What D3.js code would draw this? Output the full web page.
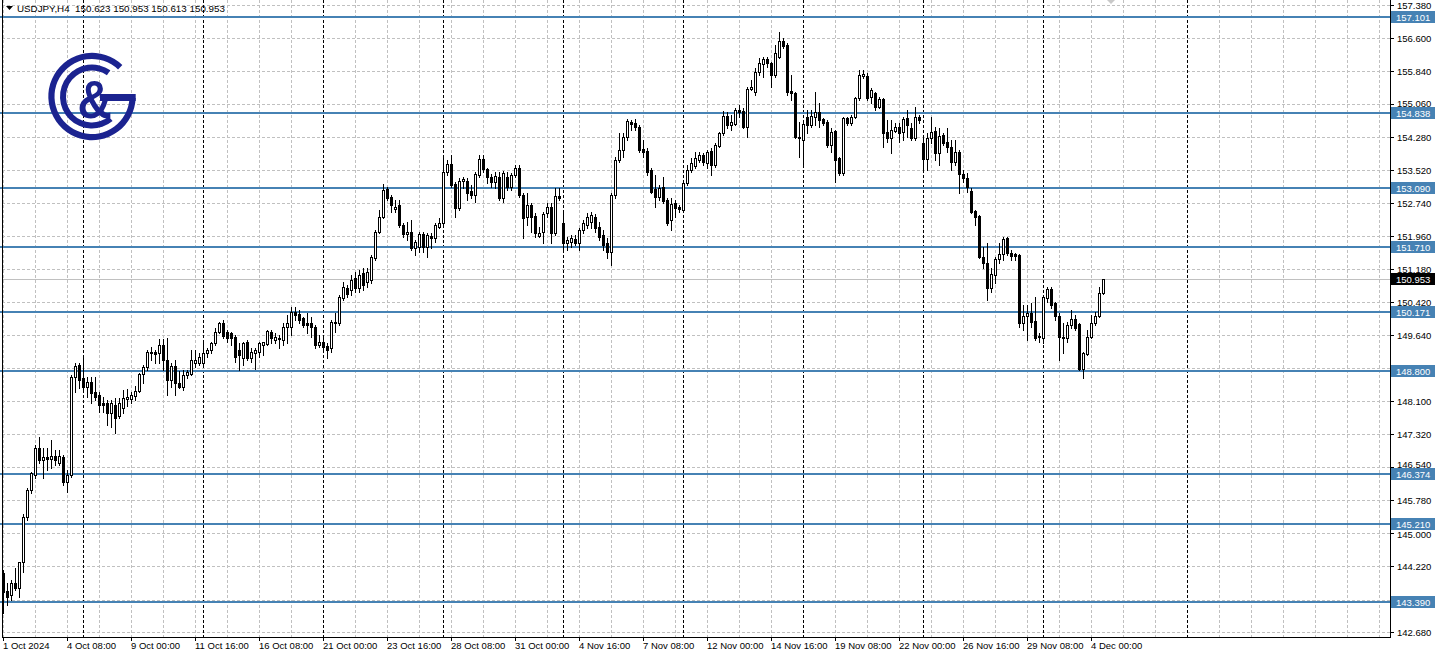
<!DOCTYPE html>
<html><head><meta charset="utf-8">
<script src="https://cdn.jsdelivr.net/npm/d3@7"></script>
<style>
html,body{margin:0;padding:0;background:#fff;overflow:hidden;}
svg{display:block;}
text{font-family:"Liberation Sans",Arial,sans-serif;}
</style></head><body>
<svg id="c" width="1437" height="658"></svg>
<script>
const header = "USDJPY,H4  150.623 150.953 150.613 150.953";
const opens = [144.06,143.64,143.55,143.83,143.71,144.32,145.38,146.01,146.36,146.99,146.71,146.78,146.73,146.80,146.64,146.78,146.20,146.36,148.66,148.94,
148.63,148.42,148.54,148.31,148.24,148.05,148.05,147.81,148.00,147.74,147.93,148.14,148.14,148.21,148.33,148.73,148.89,149.22,149.24,149.22,
149.41,149.06,148.59,148.92,148.52,148.42,148.70,148.73,148.99,148.99,148.99,149.22,149.29,149.45,149.71,149.92,149.71,149.69,149.60,149.29,
149.10,149.48,149.10,149.22,149.24,149.41,149.43,149.71,149.53,149.57,149.53,149.83,149.83,150.18,150.13,150.04,149.92,149.92,149.83,149.41,
149.48,149.38,149.34,149.92,149.92,150.51,150.75,150.70,150.98,150.75,151.10,150.89,150.93,151.45,152.06,152.41,153.07,152.88,152.60,152.69,
152.22,152.01,152.06,151.68,151.71,152.01,151.71,151.96,151.92,152.17,152.27,153.46,153.65,153.18,152.62,153.25,153.25,153.02,152.92,153.39,
153.77,153.54,153.35,153.23,153.35,152.85,153.35,153.11,153.39,153.56,152.92,152.41,152.69,152.43,151.96,152.06,152.50,152.64,152.03,152.90,
152.27,151.80,151.82,151.89,151.80,152.10,152.22,152.29,152.41,152.17,151.99,151.80,151.59,152.92,153.75,153.98,154.29,154.64,154.61,154.52,
154.00,153.96,153.51,153.07,152.88,153.11,152.81,152.34,152.74,152.64,152.57,153.21,153.51,153.60,153.75,153.86,153.68,153.96,153.63,154.07,
154.38,154.78,154.57,154.59,154.92,154.89,154.52,155.41,155.34,155.81,156.00,156.11,156.02,155.74,156.16,156.54,156.44,155.36,155.32,154.29,
154.21,154.75,154.57,154.75,154.87,154.71,154.64,154.10,154.43,153.79,153.44,154.73,154.61,154.75,155.20,155.72,155.72,155.22,155.32,154.99,
155.18,154.40,154.26,154.43,154.52,154.40,154.73,154.50,154.26,154.75,154.14,153.77,154.26,154.43,153.91,154.33,154.17,154.05,153.70,153.93,
153.42,153.32,153.02,152.55,152.43,151.47,151.33,150.75,151.05,151.42,151.54,151.92,151.57,151.54,151.52,149.92,150.09,150.16,149.97,149.62,
149.57,150.51,150.72,150.39,150.09,149.60,149.57,149.88,150.02,149.90,148.85,149.20,149.60,149.92,150.09,150.623];
const highs = [144.13,143.83,143.90,144.18,144.32,145.45,146.05,146.43,147.06,147.25,146.99,146.99,147.18,146.95,146.95,146.83,146.48,148.70,148.99,148.99,
149.17,148.66,148.66,148.66,148.31,148.19,148.12,148.12,148.16,148.16,148.35,148.38,148.31,148.45,148.75,148.94,149.29,149.36,149.29,149.55,
149.55,149.57,148.99,149.06,148.80,148.82,148.82,149.29,149.29,149.22,149.45,149.34,149.48,149.81,149.95,149.99,149.76,149.71,149.64,149.45,
149.48,149.53,149.34,149.34,149.48,149.48,149.76,149.76,149.69,149.64,149.92,150.11,150.30,150.30,150.23,150.06,150.16,150.06,149.88,149.64,
149.64,149.45,149.99,150.16,150.58,150.89,150.82,151.05,151.12,151.17,151.21,151.21,151.52,152.10,152.57,153.18,153.11,152.92,152.81,152.81,
152.27,152.29,152.34,151.87,152.06,152.06,152.03,152.03,152.27,152.39,153.86,153.75,153.86,153.23,153.32,153.35,153.32,153.16,153.46,153.86,
153.86,153.56,153.42,153.46,153.46,153.49,153.46,153.44,153.63,153.63,152.97,152.97,152.74,152.50,152.17,152.53,152.74,152.74,153.09,153.09,
152.50,151.94,151.99,151.99,152.15,152.34,152.50,152.53,152.48,152.29,152.10,151.92,152.97,153.82,154.38,154.38,154.71,154.68,154.71,154.57,
154.21,154.03,153.56,153.39,153.16,153.35,152.85,152.85,152.81,152.69,153.23,153.63,153.79,153.93,153.93,153.91,153.98,154.03,154.15,154.40,
154.90,154.87,154.80,154.96,155.04,154.96,155.46,155.62,155.90,156.14,156.16,156.16,156.04,156.44,156.75,156.61,156.49,155.74,155.34,154.64,
154.64,154.92,154.92,155.34,155.08,154.73,154.68,154.50,154.45,153.82,154.75,154.75,154.80,155.22,155.86,155.86,155.79,155.43,155.34,155.22,
155.20,154.68,154.68,154.61,154.61,154.75,154.92,154.61,154.99,154.80,154.26,154.38,154.75,154.52,154.50,154.38,154.50,154.21,154.21,153.98,
153.51,153.44,153.09,152.57,152.46,151.71,151.80,151.21,151.47,151.80,151.94,151.94,151.64,151.57,151.54,150.35,150.35,150.39,150.53,149.69,
150.58,150.77,150.77,150.42,150.16,149.92,149.95,150.23,150.11,149.92,149.24,149.76,150.11,150.18,150.77,150.953];
const lows = [143.12,143.31,143.43,143.66,143.50,144.09,145.31,145.94,146.29,146.64,146.29,146.48,146.52,146.59,146.59,146.13,145.96,146.31,148.31,148.40,
148.31,148.19,148.05,148.12,147.84,147.84,147.53,147.49,147.35,147.70,147.81,147.98,148.05,148.12,148.31,148.52,148.82,149.06,148.99,148.99,
148.82,148.24,148.42,148.24,148.40,148.35,148.63,148.70,148.89,148.94,148.89,149.13,149.22,149.41,149.69,149.57,149.48,149.41,149.01,148.82,
148.94,149.06,149.01,148.85,149.13,149.17,149.41,149.45,149.45,149.34,149.41,149.45,149.64,149.99,149.92,149.83,149.69,149.60,149.34,149.36,
149.24,149.10,149.24,149.71,149.88,150.46,150.53,150.58,150.65,150.65,150.70,150.77,150.86,151.40,152.03,152.39,152.81,152.53,152.53,152.17,
151.94,151.87,151.64,151.52,151.59,151.59,151.47,151.68,151.82,152.15,152.22,153.39,153.11,152.41,152.57,153.09,152.81,152.85,152.76,153.35,
153.46,153.21,153.11,153.09,152.81,152.76,153.04,153.04,153.35,152.88,151.92,152.22,152.06,151.94,151.94,151.80,152.41,151.80,151.99,152.81,
151.64,151.64,151.71,151.75,151.64,152.03,152.15,152.15,152.06,151.87,151.64,151.45,151.29,152.85,153.70,153.82,154.21,154.45,154.45,153.93,
153.82,153.39,152.97,152.64,152.81,152.74,152.22,152.10,152.41,152.53,152.53,153.16,153.46,153.56,153.70,153.63,153.56,153.39,153.58,154.05,
154.33,154.50,154.45,154.57,154.75,154.50,154.29,155.39,155.27,155.74,155.69,155.93,155.46,155.69,156.14,156.37,155.27,155.15,154.26,153.82,
153.63,154.38,154.52,154.57,154.52,154.57,154.05,153.93,153.23,153.39,153.39,154.57,154.57,154.73,155.15,155.67,155.15,155.08,154.92,154.96,
154.05,154.17,153.91,154.40,154.17,154.21,154.29,154.21,154.21,154.61,153.51,153.51,154.14,153.75,153.63,154.10,153.93,153.51,153.63,152.97,
153.23,153.00,152.50,152.22,151.45,151.21,150.46,150.65,150.86,151.33,151.40,151.52,151.40,151.40,149.83,149.76,149.53,149.83,149.53,149.48,
149.45,150.42,150.28,149.99,149.06,149.22,149.48,149.81,149.76,148.82,148.63,149.17,149.57,149.88,150.06,150.613];
const closes = [143.62,143.50,143.83,143.71,144.32,145.38,146.01,146.41,146.99,146.71,146.78,146.73,146.80,146.71,146.80,146.20,146.36,148.66,148.92,148.59,
148.42,148.54,148.28,148.19,148.00,148.00,147.81,148.05,147.70,148.05,148.16,148.19,148.24,148.33,148.73,148.89,149.24,149.24,149.20,149.41,
149.06,148.59,148.92,148.52,148.42,148.70,148.77,149.06,149.06,149.13,149.22,149.29,149.45,149.71,149.92,149.62,149.57,149.57,149.13,149.17,
149.45,149.10,149.24,149.29,149.45,149.48,149.74,149.57,149.60,149.55,149.83,149.92,150.18,150.11,149.99,149.88,149.88,149.83,149.41,149.48,
149.36,149.29,149.95,149.95,150.53,150.77,150.61,150.93,150.75,151.05,150.82,151.12,151.47,152.06,152.41,153.04,152.85,152.69,152.64,152.22,
152.01,152.06,151.68,151.82,152.01,151.71,151.99,151.92,152.22,152.27,153.46,153.65,153.16,152.62,153.25,153.30,152.97,152.92,153.42,153.77,
153.54,153.35,153.23,153.37,152.85,153.44,153.11,153.39,153.56,152.92,152.39,152.69,152.41,152.03,152.03,152.48,152.64,152.03,152.90,152.85,
151.80,151.87,151.92,151.80,152.10,152.27,152.41,152.46,152.15,151.94,151.75,151.59,152.92,153.75,153.98,154.29,154.66,154.59,154.52,153.98,
153.93,153.46,153.00,152.88,153.09,152.78,152.27,152.71,152.62,152.60,153.21,153.51,153.68,153.79,153.86,153.70,153.93,153.63,154.10,154.38,
154.78,154.57,154.64,154.92,154.87,154.52,155.41,155.46,155.81,156.02,156.11,156.02,155.74,156.25,156.54,156.42,155.34,155.32,154.29,154.26,
154.59,154.57,154.78,154.87,154.68,154.61,154.10,154.40,153.75,153.44,154.73,154.61,154.75,155.20,155.74,155.76,155.20,155.39,154.99,155.18,
154.38,154.26,154.45,154.52,154.38,154.71,154.57,154.26,154.75,154.68,153.77,154.26,154.40,153.91,154.31,154.14,154.05,153.70,153.93,153.42,
153.32,153.11,152.53,152.41,151.47,151.33,150.75,151.07,151.42,151.54,151.89,151.57,151.50,151.50,149.92,150.09,150.16,149.95,149.57,149.60,
150.53,150.72,150.35,150.09,149.60,149.57,149.88,150.02,149.81,148.85,149.22,149.60,149.92,150.09,150.62,150.953];
const timeLabels = ["1 Oct 2024","4 Oct 08:00","9 Oct 00:00","11 Oct 16:00","16 Oct 08:00","21 Oct 00:00","23 Oct 16:00","28 Oct 08:00","31 Oct 00:00","4 Nov 16:00","7 Nov 08:00","12 Nov 00:00","14 Nov 16:00","19 Nov 08:00","22 Nov 00:00","26 Nov 16:00","29 Nov 08:00","4 Dec 00:00"];
const labelEvery = 16;
const gridEvery = 8;
const weekStarts = [20,50,80,110,140,170,200,230,260,296];
const priceTicks = [157.380,156.600,155.840,155.060,154.280,153.520,152.740,151.960,151.180,150.420,149.640,148.860,148.100,147.320,146.540,145.780,145.000,144.220,143.440,142.680];
const levels = [157.101,154.838,153.090,151.710,150.171,148.800,146.374,145.210,143.390];
const lastPrice = 150.953;

const svg = d3.select("#c");
const L = 2, R = 1390, B = 637;
const x = d3.scaleLinear().domain([0, (R - 3) / 4]).range([3, R]);
const y = d3.scaleLinear().domain([142.68, 157.38]).range([632, 5]);
const px = v => Math.round(x(v));
const py = v => Math.round(y(v));

svg.append("rect").attr("width",1437).attr("height",658).attr("fill","#fff");
const g = svg.append("g").attr("shape-rendering","crispEdges");

// grid
const nBarsView = Math.floor((R - 3) / 4);
for (let i = 0; i <= nBarsView; i += gridEvery) {
  g.append("line").attr("x1",px(i)+0.5).attr("x2",px(i)+0.5).attr("y1",0).attr("y2",B)
   .attr("stroke","#c0c0c0").attr("stroke-dasharray","3,2");
}
priceTicks.forEach(v => {
  g.append("line").attr("x1",L).attr("x2",R).attr("y1",py(v)+0.5).attr("y2",py(v)+0.5)
   .attr("stroke","#c0c0c0").attr("stroke-dasharray","3,2");
});
weekStarts.forEach(i => {
  g.append("line").attr("x1",px(i)+0.5).attr("x2",px(i)+0.5).attr("y1",0).attr("y2",B)
   .attr("stroke","#000").attr("stroke-dasharray","3,2");
});

// current price line
g.append("line").attr("x1",L).attr("x2",R).attr("y1",py(lastPrice)+0.5).attr("y2",py(lastPrice)+0.5)
 .attr("stroke","#c0c0c0");

// levels
levels.forEach(v => {
  g.append("rect").attr("x",0).attr("width",R).attr("y",py(v)-1).attr("height",2).attr("fill","#4682b4");
});

// candles
const bars = opens.map((o,i)=>({i,o,h:highs[i],l:lows[i],c:closes[i]}));
const cg = g.append("g");
bars.forEach(b => {
  const cx = px(b.i);
  cg.append("line").attr("x1",cx+0.5).attr("x2",cx+0.5).attr("y1",py(b.h)).attr("y2",py(b.l)+1).attr("stroke","#000");
  const top = py(Math.max(b.o,b.c)), bot = py(Math.min(b.o,b.c));
  const up = b.c >= b.o;
  if (bot - top < 1) {
    cg.append("line").attr("x1",cx-1).attr("x2",cx+2).attr("y1",top+0.5).attr("y2",top+0.5).attr("stroke","#000");
  } else {
    cg.append("rect").attr("x",cx-0.5).attr("y",top+0.5).attr("width",2).attr("height",bot-top)
      .attr("fill",up?"#fff":"#000").attr("stroke","#000");
  }
});

// frame
g.append("line").attr("x1",L+0.5).attr("x2",L+0.5).attr("y1",0).attr("y2",B+1).attr("stroke","#000");
g.append("line").attr("x1",R+0.5).attr("x2",R+0.5).attr("y1",0).attr("y2",B+1).attr("stroke","#000");
g.append("line").attr("x1",L).attr("x2",R+1).attr("y1",B+0.5).attr("y2",B+0.5).attr("stroke","#000");

// right axis (labels hidden where a level box fully covers them, nudged when partly covered)
priceTicks.forEach(v => {
  g.append("line").attr("x1",R).attr("x2",R+4).attr("y1",py(v)+0.5).attr("y2",py(v)+0.5).attr("stroke","#000");
  const covered = levels.some(l => Math.abs(py(l) - py(v)) < 4);
  if (!covered) {
    let ty = py(v) + 3.5;
    const near = levels.find(l => Math.abs(py(l) - py(v)) < 13);
    if (near !== undefined) {
      const by = py(near);
      if (by > py(v)) ty = Math.min(ty, by - 6.5);   // box below: keep baseline above box top
      else ty = Math.max(ty, by + 6 + 7.5);           // box above: keep text top below box
    }
    svg.append("text").attr("x",R+7).attr("y",ty).attr("font-size",9.5).attr("fill","#000").text(v.toFixed(3));
  }
});
levels.forEach(v => {
  svg.append("rect").attr("x",R+1).attr("y",py(v)-6).attr("width",44).attr("height",12).attr("fill","#4682b4");
  svg.append("text").attr("x",R+6).attr("y",py(v)+3.5).attr("font-size",9.5).attr("fill","#fff").text(v.toFixed(3));
});
svg.append("rect").attr("x",R+1).attr("y",py(lastPrice)-6).attr("width",44).attr("height",12).attr("fill","#000");
svg.append("text").attr("x",R+6).attr("y",py(lastPrice)+3.5).attr("font-size",9.5).attr("fill","#fff").text(lastPrice.toFixed(3));

// bottom axis
timeLabels.forEach((t,k) => {
  const xi = px(k*labelEvery);
  g.append("line").attr("x1",xi+0.5).attr("x2",xi+0.5).attr("y1",B).attr("y2",B+4).attr("stroke","#000");
  svg.append("text").attr("x",xi).attr("y",649).attr("font-size",9.5).attr("fill","#000").text(t);
});

// chart-shift marker
const sx = px(bars.length + 1);
svg.append("path").attr("d",`M${sx-4},0 L${sx+4},0 L${sx},4 Z`).attr("fill","#c8c8c8");

// header
svg.append("path").attr("d","M6,6 L13,6 L9.5,10 Z").attr("fill","#000");
svg.append("text").attr("x",17).attr("y",12).attr("font-size",9.8).attr("fill","#000").attr("xml:space","preserve").text(header);

// logo
const navy = "#1b2390";
const lg = svg.append("g").attr("transform","translate(92,96.5)");
const deg = Math.PI/180;
lg.append("path").attr("d", d3.arc()({innerRadius:37.5,outerRadius:43.7,startAngle:92*deg,endAngle:404*deg})).attr("fill",navy);
lg.append("path").attr("d", d3.arc()({innerRadius:26,outerRadius:32,startAngle:140*deg,endAngle:395*deg})).attr("fill",navy);
lg.append("rect").attr("x",8).attr("y",-2.5).attr("width",35.7).attr("height",7).attr("fill",navy);
lg.append("text").attr("x",3).attr("y",21).attr("text-anchor","middle").attr("font-size",54).attr("font-weight","bold")
  .attr("transform","scale(0.88,1)").attr("fill",navy).text("&");
</script>
</body></html>
